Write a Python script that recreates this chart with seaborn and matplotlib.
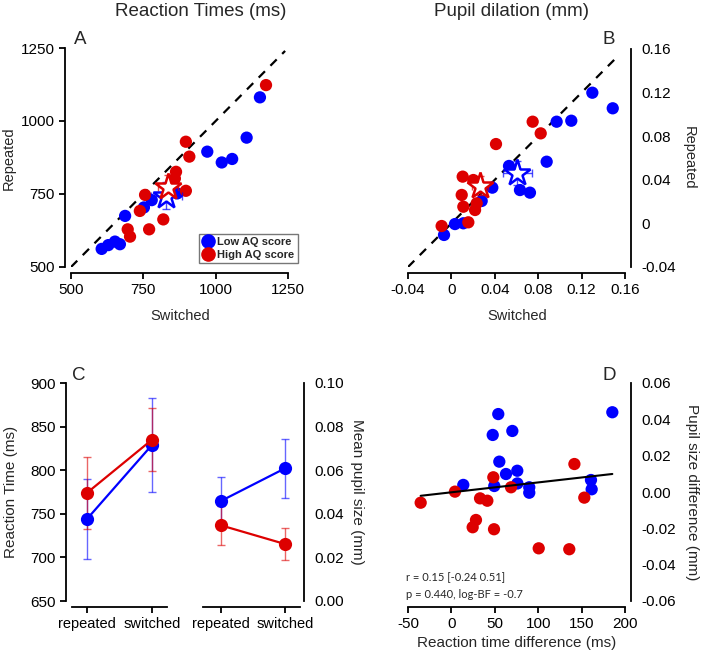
import numpy as np
import pandas as pd
import matplotlib
matplotlib.use("Agg")
import matplotlib.pyplot as plt
import seaborn as sns
from matplotlib.ticker import FuncFormatter

# ---- data ----
# A: reaction times (ms) per participant, switched (x) vs repeated (y)
rt_low_switched = [606, 629, 652, 669, 687, 752, 779, 867, 971, 1021, 1057, 1107, 1153]
rt_low_repeated = [562, 575, 587, 578, 675, 704, 729, 752, 895, 858, 870, 943, 1081]
rt_high_switched = [696, 704, 738, 756, 770, 819, 859, 863, 897, 897, 909, 1174]
rt_high_repeated = [629, 604, 692, 747, 629, 663, 803, 826, 761, 929, 878, 1123]

# B: pupil dilation (mm)
pd_low_switched = [-0.0068, 0.0033, 0.0110, 0.0279, 0.0377, 0.0531, 0.0632, 0.0724,
                   0.0878, 0.0970, 0.1105, 0.1299, 0.1487]
pd_low_repeated = [-0.0106, -0.0006, 0.0001, 0.0206, 0.0328, 0.0527, 0.0306, 0.0282,
                   0.0566, 0.0933, 0.0942, 0.1199, 0.1056]
pd_high_switched = [-0.0090, 0.0156, 0.0104, 0.0095, 0.0110, 0.0202, 0.0218, 0.0233,
                    0.0411, 0.0749, 0.0823]
pd_high_repeated = [-0.0024, 0.0010, 0.0429, 0.0261, 0.0153, 0.0398, 0.0123, 0.0184,
                    0.0728, 0.0933, 0.0826]

# C: group means and standard errors
conditions = ["repeated", "switched"]
rt_low_mean = [744, 829]
rt_low_se = [46, 53.5]
rt_high_mean = [774, 835]
rt_high_se = [41, 36]
pupil_low_mean = [0.0459, 0.0609]
pupil_low_se = [0.011, 0.0135]
pupil_high_mean = [0.0347, 0.0261]
pupil_high_se = [0.009, 0.0075]

# D: switched - repeated differences
diff_low_rt = [13.7, 47.6, 49.4, 54.0, 55.2, 62.9, 70.2, 75.9, 76.0, 89.7, 89.7, 160.8, 161.6, 185.4]
diff_low_pupil = [0.0039, 0.0314, 0.0033, 0.0429, 0.0167, 0.0099, 0.0336, 0.0117, 0.0047,
                  0.0026, -0.0004, 0.0066, 0.0015, 0.0439]
diff_high_rt = [-35.4, 4.1, 24.5, 28.3, 33.0, 41.4, 48.3, 49.1, 68.7, 100.6, 135.8, 141.7, 153.1]
diff_high_pupil = [-0.0059, 0.0002, -0.0194, -0.0154, -0.0035, -0.0048, 0.0081, -0.0205,
                   0.0026, -0.0310, -0.0315, 0.0154, -0.0031]

group_labels = ["Low AQ score", "High AQ score"]

BLUE = "#0000ff"
RED = "#dd0000"
palette = {group_labels[0]: BLUE, group_labels[1]: RED}

sns.set_style("ticks")
plt.rcParams["font.family"] = ["Liberation Sans", "DejaVu Sans"]
plt.rcParams["axes.unicode_minus"] = False
plt.rcParams["axes.linewidth"] = 1.3
plt.rcParams["xtick.major.width"] = 1.3
plt.rcParams["ytick.major.width"] = 1.3
plt.rcParams["xtick.major.size"] = 4
plt.rcParams["ytick.major.size"] = 4
plt.rcParams["xtick.labelsize"] = 11
plt.rcParams["ytick.labelsize"] = 11
plt.rcParams["xtick.color"] = "black"
plt.rcParams["ytick.color"] = "black"
plt.rcParams["axes.edgecolor"] = "black"

W, H = 702, 657
fig = plt.figure(figsize=(W / 100, H / 100), dpi=100)


def px_axes(x0, x1, y_top, y_bot):
    return fig.add_axes([x0 / W, 1 - y_bot / H, (x1 - x0) / W, (y_bot - y_top) / H])


def px_text(x, y, s, **kw):
    fig.text(x / W, 1 - y / H, s, ha=kw.pop("ha", "center"), va=kw.pop("va", "center"), **kw)


def long_df(xs, ys, cols):
    frames = []
    for lab, x, y in zip(group_labels, xs, ys):
        frames.append(pd.DataFrame({cols[0]: x, cols[1]: y, "group": lab}))
    return pd.concat(frames, ignore_index=True)


MS = 78  # scatter marker area

# ---------- Panel A ----------
axA = px_axes(71, 288, 48, 267)
dfA = long_df([rt_low_switched, rt_high_switched], [rt_low_repeated, rt_high_repeated], ["sw", "rep"])
axA.plot([500, 1240], [500, 1240], ls=(0, (4, 3.5)), color="black", lw=1.6, zorder=1)
sns.scatterplot(data=dfA, x="sw", y="rep", hue="group", palette=palette, s=MS,
                linewidth=0, ax=axA, zorder=3, legend=False)
for m_sw, m_rep, e_sw, e_rep, c in [(rt_low_mean[1], rt_low_mean[0], rt_low_se[1], rt_low_se[0], BLUE),
                                    (rt_high_mean[1], rt_high_mean[0], rt_high_se[1], rt_high_se[0], RED)]:
    axA.errorbar(m_sw, m_rep, xerr=e_sw, yerr=e_rep, fmt="none", ecolor=c, elinewidth=1,
                 capsize=3, alpha=0.7, zorder=4)
    axA.plot(m_sw, m_rep, marker="*", ms=20, mfc="white", mec=c, mew=1.8, zorder=5)
axA.set_xlim(500, 1250)
axA.set_ylim(500, 1250)
axA.set_xticks([500, 750, 1000, 1250])
axA.set_yticks([500, 750, 1000, 1250])
sns.despine(ax=axA, offset=4)
axA.set_xlabel("")
axA.set_ylabel("")

# legend box in A
handles = [plt.Line2D([], [], ls="", marker="o", ms=9.5, color=palette[g]) for g in group_labels]
leg = axA.legend(handles, group_labels, loc="upper left", bbox_to_anchor=(199 / W, 1 - 234 / H),
                 bbox_transform=fig.transFigure, frameon=True, fancybox=False, borderpad=0.3,
                 borderaxespad=0, handletextpad=0.35, labelspacing=0.2, handlelength=1.0,
                 prop={"weight": "bold", "size": 8})
leg.get_frame().set_edgecolor("#555555")
leg.get_frame().set_linewidth(1.0)

# ---------- Panel B ----------
axB = px_axes(408, 625, 49, 267)
dfB = long_df([pd_low_switched, pd_high_switched], [pd_low_repeated, pd_high_repeated], ["sw", "rep"])
axB.plot([-0.04, 0.155], [-0.04, 0.155], ls=(0, (4, 3.5)), color="black", lw=1.6, zorder=1)
sns.scatterplot(data=dfB, x="sw", y="rep", hue="group", palette=palette, s=MS,
                linewidth=0, ax=axB, zorder=3, legend=False)
for m_sw, m_rep, e_sw, e_rep, c in [(pupil_low_mean[1], pupil_low_mean[0], pupil_low_se[1], pupil_low_se[0], BLUE),
                                    (pupil_high_mean[1], pupil_high_mean[0], pupil_high_se[1], pupil_high_se[0], RED)]:
    axB.errorbar(m_sw, m_rep, xerr=e_sw, yerr=e_rep, fmt="none", ecolor=c, elinewidth=1,
                 capsize=3, alpha=0.7, zorder=4)
    axB.plot(m_sw, m_rep, marker="*", ms=20, mfc="white", mec=c, mew=1.8, zorder=5)
axB.set_xlim(-0.04, 0.16)
axB.set_ylim(-0.04, 0.16)
ticksB = [-0.04, 0, 0.04, 0.08, 0.12, 0.16]
axB.set_xticks(ticksB)
axB.set_yticks(ticksB)
fmtB = FuncFormatter(lambda v, p: "0" if abs(v) < 1e-9 else f"{v:.2f}")
axB.xaxis.set_major_formatter(fmtB)
axB.yaxis.set_major_formatter(fmtB)
axB.yaxis.tick_right()
sns.despine(ax=axB, left=True, right=False, offset=4)
axB.set_xlabel("")
axB.set_ylabel("")

# ---------- Panel C ----------
axC1 = px_axes(72, 167, 383, 601)
axC2 = px_axes(203, 300, 383, 601)
xpos = np.arange(len(conditions))
for ax, series, ylim, yt, side in [
    (axC1, [(rt_low_mean, rt_low_se, BLUE), (rt_high_mean, rt_high_se, RED)], (650, 900),
     np.arange(650, 901, 50), "left"),
    (axC2, [(pupil_low_mean, pupil_low_se, BLUE), (pupil_high_mean, pupil_high_se, RED)], (0, 0.1),
     np.arange(0, 0.101, 0.02), "right"),
]:
    for mean, se, c in series:
        ax.errorbar(xpos, mean, yerr=se, fmt="none", ecolor=c, elinewidth=1, capsize=3,
                    alpha=0.6, zorder=2)
        sns.lineplot(x=xpos, y=mean, color=c, lw=1.6, marker="o", markersize=9.5,
                     markeredgewidth=0, ax=ax, zorder=3)
    ax.set_ylim(*ylim)
    ax.set_yticks(yt)
    ax.set_xticks(xpos)
    ax.set_xticklabels(conditions)
    if side == "left":
        ax.set_xlim(-0.23, 1.23)
        sns.despine(ax=ax, offset={"left": 4, "bottom": 4})
    else:
        ax.set_xlim(-0.28, 1.23)
        ax.yaxis.tick_right()
        ax.yaxis.set_major_formatter(FuncFormatter(lambda v, p: f"{v:.2f}"))
        sns.despine(ax=ax, left=True, right=False, offset={"right": 3, "bottom": 4})
    ax.tick_params(axis="x", labelsize=10.5)

# ---------- Panel D ----------
axD = px_axes(408, 625, 383, 601)
dfD = long_df([diff_low_rt, diff_high_rt], [diff_low_pupil, diff_high_pupil], ["drt", "dpup"])
sns.scatterplot(data=dfD, x="drt", y="dpup", hue="group", palette=palette, s=MS,
                linewidth=0, ax=axD, zorder=3, legend=False)
sns.regplot(data=dfD, x="drt", y="dpup", scatter=False, ci=None, ax=axD,
            line_kws={"color": "black", "lw": 1.5, "zorder": 4})
axD.set_xlim(-50, 200)
axD.set_ylim(-0.06, 0.06)
axD.set_xticks(np.arange(-50, 201, 50))
axD.set_yticks(np.arange(-0.06, 0.061, 0.02))
axD.yaxis.set_major_formatter(FuncFormatter(lambda v, p: f"{v:.2f}" if abs(v) > 1e-9 else "0.00"))
axD.yaxis.tick_right()
sns.despine(ax=axD, left=True, right=False, offset=4)
axD.set_xlabel("")
axD.set_ylabel("")

# ---------- labels ----------
px_text(201, 11, "Reaction Times (ms)", fontsize=13.5)
px_text(511, 11, "Pupil dilation (mm)", fontsize=13.5)
px_text(80, 40, "A", fontsize=13.5)
px_text(609, 40, "B", fontsize=13.5)
px_text(79, 375, "C", fontsize=13.5)
px_text(609, 375, "D", fontsize=13.5)
px_text(180, 316, "Switched", fontsize=10.5)
px_text(517, 316, "Switched", fontsize=10.5)
px_text(9, 158, "Repeated", fontsize=10.5, rotation=90)
px_text(689, 158, "Repeated", fontsize=10.5, rotation=270)
px_text(11, 492, "Reaction Time (ms)", fontsize=11, rotation=90)
px_text(357, 492, "Mean pupil size (mm)", fontsize=11, rotation=270)
px_text(692, 492, "Pupil size difference (mm)", fontsize=11, rotation=270)
px_text(517, 643, "Reaction time difference (ms)", fontsize=11)
px_text(406, 578, "r = 0.15 [-0.24 0.51]", fontsize=8, ha="left", family=["Lato", "DejaVu Sans"])
px_text(406, 594, "p = 0.440, log-BF = -0.7", fontsize=8, ha="left", family=["Lato", "DejaVu Sans"])

fig.savefig("out.png", dpi=100)
